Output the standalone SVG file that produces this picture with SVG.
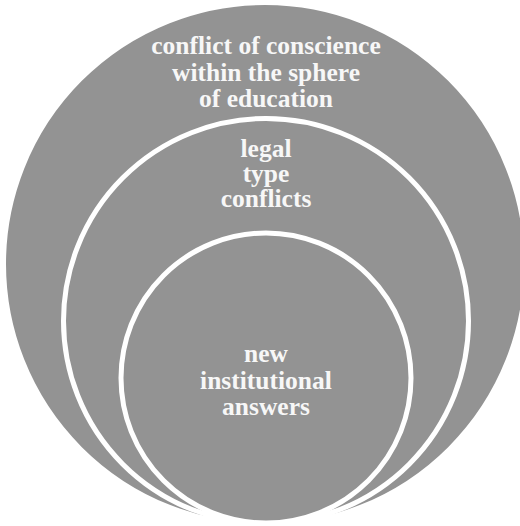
<svg xmlns="http://www.w3.org/2000/svg" width="520" height="526" viewBox="0 0 520 526">
  <style>
    .ring { fill: #939393; stroke: #ffffff; stroke-width: 5; }
    .label { fill: #f7f7f7; font-family: "Liberation Serif", "DejaVu Serif", serif; font-weight: bold; font-size: 25.5px; text-anchor: middle; }
  </style>
  <rect width="520" height="526" fill="#ffffff"/>
  <!-- outermost ring -->
  <g id="conscience">
    <circle class="ring" cx="265" cy="264" r="261.5"/>
    <text class="label" x="266" y="54">conflict of conscience</text>
    <text class="label" x="266" y="81">within the sphere</text>
    <text class="label" x="266" y="107">of education</text>
  </g>
  <!-- middle ring -->
  <g id="legal">
    <circle class="ring" cx="266" cy="321" r="202.5"/>
    <text class="label" x="266" y="157">legal</text>
    <text class="label" x="266" y="182">type</text>
    <text class="label" x="266" y="207">conflicts</text>
  </g>
  <!-- innermost ring -->
  <g id="answers">
    <circle class="ring" cx="266" cy="378" r="145"/>
    <text class="label" x="266" y="362">new</text>
    <text class="label" x="266" y="389">institutional</text>
    <text class="label" x="266" y="415">answers</text>
  </g>
  <g id="connectors"/>
</svg>
